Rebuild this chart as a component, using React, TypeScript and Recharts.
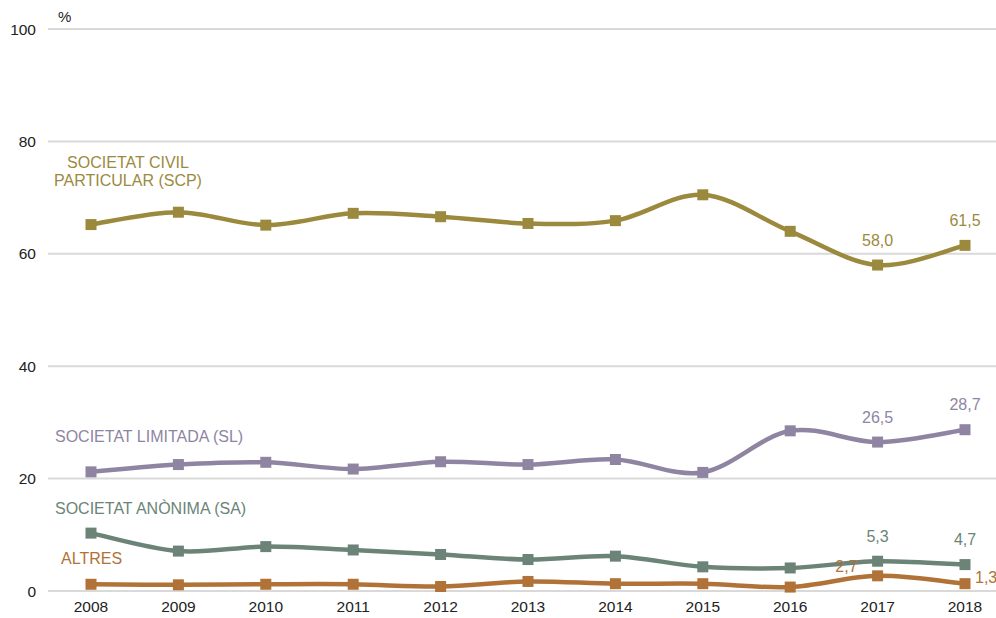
import React from 'react';
import { LineChart, Line, XAxis, YAxis, CartesianGrid, LabelList, Customized } from 'recharts';

const years = ['2008', '2009', '2010', '2011', '2012', '2013', '2014', '2015', '2016', '2017', '2018'];
const scp = [65.2, 67.4, 65.1, 67.2, 66.6, 65.4, 65.9, 70.5, 64.0, 58.0, 61.5];
const sl = [21.2, 22.5, 22.9, 21.7, 23.0, 22.5, 23.4, 21.1, 28.5, 26.5, 28.7];
const sa = [10.3, 7.1, 7.9, 7.3, 6.5, 5.6, 6.2, 4.3, 4.1, 5.3, 4.7];
const altres = [1.2, 1.1, 1.2, 1.2, 0.8, 1.7, 1.3, 1.3, 0.7, 2.7, 1.3];
const yTicks = [0, 20, 40, 60, 80, 100];
const labeledIdx = [9, 10];

const data = years.map((y, i) => ({ year: y, scp: scp[i], sl: sl[i], sa: sa[i], altres: altres[i] }));

const FONT = '"Liberation Sans", Arial, sans-serif';
const C_SCP = '#9b8a3e';
const C_SL = '#8f85a2';
const C_SA = '#6b8477';
const C_ALT = '#b07236';

// Catmull-Rom style smoothing (like spreadsheet smoothed lines)
const smoothCurve: any = (context: any) => {
  let pts: number[][] = [];
  return {
    areaStart() {},
    areaEnd() {},
    lineStart() { pts = []; },
    point(x: number, y: number) { pts.push([+x, +y]); },
    lineEnd() {
      const n = pts.length;
      if (!n) return;
      context.moveTo(pts[0][0], pts[0][1]);
      for (let i = 0; i < n - 1; i++) {
        const p0 = pts[i - 1] || pts[i];
        const p1 = pts[i];
        const p2 = pts[i + 1];
        const p3 = pts[i + 2] || pts[i + 1];
        const c1x = p1[0] + (p2[0] - p0[0]) / 6;
        const c1y = p1[1] + (p2[1] - p0[1]) / 6;
        const c2x = p2[0] - (p3[0] - p1[0]) / 6;
        const c2y = p2[1] - (p3[1] - p1[1]) / 6;
        context.bezierCurveTo(c1x, c1y, c2x, c2y, p2[0], p2[1]);
      }
    },
  };
};

const squareDot = (color: string) => (props: any) => {
  const { cx, cy, index } = props;
  if (cx == null || cy == null) return <g key={index} />;
  return <rect key={index} x={cx - 5.5} y={cy - 5.5} width={11} height={11} fill={color} />;
};

const fmt = (v: number) => v.toFixed(1).replace('.', ',');

const valueLabel = (color: string, mode: 'above' | 'altres') => (props: any) => {
  const { x, y, value, index } = props;
  if (!labeledIdx.includes(index)) return null;
  let tx = x, ty = y - 25, anchor = 'middle';
  if (mode === 'altres') {
    if (index === 9) { tx = x - 20; ty = y - 9; anchor = 'end'; }
    else { tx = x + 10; ty = y - 6; anchor = 'start'; }
  }
  return (
    <text key={index} x={tx} y={ty} fill={color} fontSize={16} fontFamily={FONT} textAnchor={anchor} dominantBaseline="central">
      {fmt(value)}
    </text>
  );
};

const Annotations = () => (
  <g fontFamily={FONT} fontSize={16}>
    <text x={58} y={16} fill="#222" fontSize={15} dominantBaseline="central">%</text>
    <text x={128} y={162} fill={C_SCP} textAnchor="middle" dominantBaseline="central">SOCIETAT CIVIL</text>
    <text x={128} y={180} fill={C_SCP} textAnchor="middle" dominantBaseline="central">PARTICULAR (SCP)</text>
    <text x={55} y={436} fill={C_SL} dominantBaseline="central">SOCIETAT LIMITADA (SL)</text>
    <text x={55} y={508} fill={C_SA} dominantBaseline="central">SOCIETAT ANÒNIMA (SA)</text>
    <text x={61} y={558} fill={C_ALT} dominantBaseline="central">ALTRES</text>
  </g>
);

export default function App() {
  return (
    <div style={{ position: 'absolute', left: 0, top: 0, width: 996, height: 618, background: '#fff' }}>
      <LineChart width={996} height={618} data={data} margin={{ top: 29, right: 0, left: 0, bottom: 0 }}>
        <CartesianGrid vertical={false} stroke="#d9d9d9" strokeWidth={2} />
        <XAxis
          dataKey="year"
          axisLine={false}
          tickLine={false}
          tickSize={0}
          tickMargin={10}
          height={27}
          padding={{ left: 43, right: 31 }}
          tick={{ fill: '#222', fontSize: 15.5, fontFamily: FONT }}
          interval={0}
        />
        <YAxis
          domain={[0, 100]}
          ticks={yTicks}
          axisLine={false}
          tickLine={false}
          tickSize={0}
          tickMargin={12}
          width={48}
          tick={{ fill: '#222', fontSize: 15.5, fontFamily: FONT }}
        />
        <Line dataKey="scp" type={smoothCurve} stroke={C_SCP} strokeWidth={4.5} dot={squareDot(C_SCP)} activeDot={false} isAnimationActive={false}>
          <LabelList dataKey="scp" content={valueLabel(C_SCP, 'above')} />
        </Line>
        <Line dataKey="sl" type={smoothCurve} stroke={C_SL} strokeWidth={4.5} dot={squareDot(C_SL)} activeDot={false} isAnimationActive={false}>
          <LabelList dataKey="sl" content={valueLabel(C_SL, 'above')} />
        </Line>
        <Line dataKey="sa" type={smoothCurve} stroke={C_SA} strokeWidth={4.5} dot={squareDot(C_SA)} activeDot={false} isAnimationActive={false}>
          <LabelList dataKey="sa" content={valueLabel(C_SA, 'above')} />
        </Line>
        <Line dataKey="altres" type={smoothCurve} stroke={C_ALT} strokeWidth={4.5} dot={squareDot(C_ALT)} activeDot={false} isAnimationActive={false}>
          <LabelList dataKey="altres" content={valueLabel(C_ALT, 'altres')} />
        </Line>
        <Customized component={<Annotations />} />
      </LineChart>
    </div>
  );
}
